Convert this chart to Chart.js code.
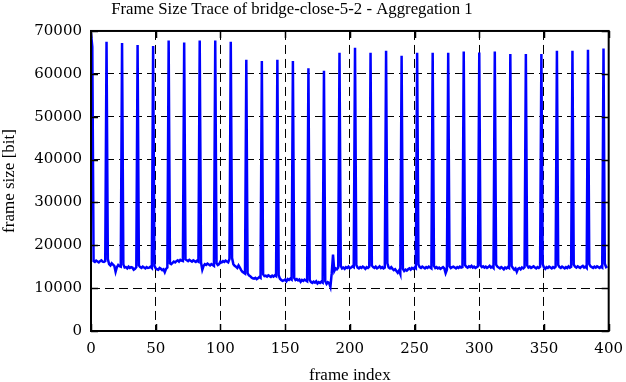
<!DOCTYPE html>
<html>
<head>
<meta charset="utf-8">
<title>Frame Size Trace</title>
<script src="https://cdn.jsdelivr.net/npm/chart.js@4.4.1/dist/chart.umd.min.js"></script>
<style>
    html, body { margin: 0; padding: 0; background: #fff; }
    #wrap { width: 626px; height: 382px; }
</style>
</head>
<body>
<div id="wrap"><canvas id="trace"></canvas></div>
<script>
// frame sizes in bit, one row per GOP (I-frame first)
const frameSizes = [
    69500, 66300, 16300, 16100, 16400, 16200, 16000, 16300, 16500, 16200, 16100, 16300,
    67500, 16800, 15600, 15300, 15800, 15500, 15200, 13800, 14900, 15400, 15100, 15000,
    67200, 15500, 14800, 14900, 14600, 15000, 14700, 14900, 14800, 14300, 14500, 14900,
    66700, 15300, 14900, 14700, 15000, 14800, 14600, 14900, 14700, 14800, 15000, 14700,
    66500, 15200, 14600, 14400, 14300, 14700, 14500, 14200, 14400, 13700, 14500, 14800,
    67800, 15800, 15600, 15900, 16200, 16000, 16300, 16500, 16200, 16600, 16400, 16300,
    67300, 16700, 16500, 16300, 16600, 16400, 16200, 16500, 16300, 16100, 16400, 16200,
    67800, 16000, 14300, 15200, 15600, 15400, 15700, 15500, 15300, 15600, 15400, 15200,
    67800, 15800, 15400, 15600, 16200, 16000, 16300, 16100, 16400, 16200, 16000, 16800,
    67500, 17000, 15600, 15200, 15000, 14700, 15300, 14800, 14200, 13800, 13600, 13400,
    63300, 13500, 13000, 12800, 12500, 12300, 12200, 12400, 12100, 12300, 12600, 12400,
    63000, 13200, 12800, 12900, 12700, 13000, 12800, 12600, 12900, 12700, 13000, 12800,
    63300, 13000, 12200, 11900, 11700, 11800, 12000, 11600, 12100, 11900, 12200, 12000,
    63000, 12400, 11900, 12100, 11800, 12000, 11500, 11900, 11700, 12000, 11800, 11600,
    61300, 11900, 11400, 11200, 11500, 11300, 11600, 11100, 11400, 11200, 11500, 11300,
    60700, 11600, 11000, 11400, 11200, 10300, 13500, 17800, 14000, 14600, 14400, 14800,
    64900, 15200, 14600, 14800, 14500, 14900, 14700, 15000, 14600, 14800, 15100, 14900,
    66100, 15400, 14800, 14600, 14900, 14700, 15000, 14800, 14500, 14900, 14700, 15000,
    64900, 15300, 14900, 14700, 15000, 14600, 14800, 15100, 14700, 14900, 14600, 14800,
    65400, 15800, 14800, 14600, 14900, 14500, 14200, 14400, 14000, 13600, 14100, 13300,
    64200, 14500, 14000, 14300, 14100, 14400, 14600, 14300, 14700, 14500, 14800, 14600,
    64900, 15500, 14900, 14700, 15000, 14800, 14600, 14900, 14700, 15000, 14800, 14600,
    64900, 15200, 14700, 14900, 14600, 14800, 14500, 14700, 14900, 14600, 13500, 14300,
    64900, 15100, 14700, 14900, 15000, 14800, 14600, 14900, 14700, 15000, 14800, 14900,
    65200, 15400, 15000, 14800, 15100, 14900, 15200, 14800, 15000, 14700, 14900, 15100,
    65000, 15300, 14900, 15100, 14800, 15000, 14700, 14900, 15200, 14800, 15000, 14700,
    65200, 15500, 15000, 14800, 14600, 14900, 14700, 14400, 14800, 14600, 14900, 14700,
    64600, 15200, 14700, 14300, 14600, 13800, 14500, 14700, 14400, 14800, 14600, 14900,
    64600, 15300, 14800, 15000, 14700, 14900, 15100, 14800, 14600, 14900, 14700, 15000,
    64600, 15600, 14800, 14500, 14900, 14700, 15000, 14800, 14600, 14900, 14700, 15000,
    65400, 15400, 14900, 14700, 15000, 14800, 14600, 14900, 14700, 15100, 14800, 15000,
    65400, 15500, 15000, 14800, 15100, 14900, 14700, 15000, 15200, 14800, 15000, 14700,
    65600, 15600, 15100, 14900, 14700, 15000, 14800, 15100, 14900, 14700, 15000, 14800,
    65900, 15700, 14900, 15100
];

const xTicks = [0, 50, 100, 150, 200, 250, 300, 350, 400];
const yTicks = [0, 10000, 20000, 30000, 40000, 50000, 60000, 70000];

const serif = '"Liberation Serif", "Times New Roman", serif';
const tickFont = { family: '"DejaVu Serif", serif', size: 15 };

// closed frame plus gnuplot style inward ticks
const framePlugin = {
    id: 'frame',
    afterDatasetsDraw(chart) {
        const { ctx, chartArea: a, scales } = chart;
        ctx.save();
        ctx.strokeStyle = '#000';
        ctx.lineWidth = 1.5;
        ctx.beginPath();
        xTicks.forEach(v => {
            const px = Math.round(scales.x.getPixelForValue(v)) + 0.5;
            ctx.moveTo(px, a.bottom); ctx.lineTo(px, a.bottom - 7);
            ctx.moveTo(px, a.top); ctx.lineTo(px, a.top + 7);
        });
        yTicks.forEach(v => {
            const py = Math.round(scales.y.getPixelForValue(v)) + 0.5;
            ctx.moveTo(a.left, py); ctx.lineTo(a.left + 7, py);
            ctx.moveTo(a.right, py); ctx.lineTo(a.right - 7, py);
        });
        ctx.stroke();
        ctx.lineWidth = 2;
        ctx.strokeRect(a.left, a.top, a.right - a.left, a.bottom - a.top);
        ctx.restore();
    }
};

new Chart(document.getElementById('trace'), {
    type: 'line',
    data: {
        datasets: [{
            data: frameSizes.map((y, i) => ({ x: i, y })),
            borderColor: '#0000ff',
            borderWidth: 2.5,
            pointRadius: 0,
            tension: 0,
            fill: false
        }]
    },
    options: {
        responsive: true,
        maintainAspectRatio: false,
        animation: false,
        layout: { padding: { left: 0, right: 17, top: 0, bottom: 0 } },
        plugins: {
            legend: { display: false },
            tooltip: { enabled: false },
            title: {
                display: true,
                // trailing spaces nudge the centred title left like the original
                text: 'Frame Size Trace of bridge-close-5-2 - Aggregation 1\u00a0\u00a0\u00a0\u00a0\u00a0\u00a0',
                color: '#000',
                font: { family: serif, size: 16.8, weight: 'normal', lineHeight: 1.2 },
                padding: { top: 0, bottom: 10.8 }
            }
        },
        scales: {
            x: {
                type: 'linear',
                min: 0,
                max: 400,
                afterFit: s => { s.height = 51; },
                afterBuildTicks: s => { s.ticks = xTicks.map(v => ({ value: v })); },
                ticks: {
                    color: '#000',
                    font: { ...tickFont, lineHeight: 2.0 },
                    padding: 3,
                    maxRotation: 0,
                    callback: v => String(v)
                },
                grid: { color: '#000', lineWidth: 1, drawTicks: false },
                border: { display: false, dash: [9, 5] },
                title: {
                    display: true,
                    text: 'frame index',
                    color: '#000',
                    font: { family: serif, size: 17, lineHeight: 0.8 },
                    padding: { top: 0, bottom: 0 }
                }
            },
            y: {
                min: 0,
                max: 70000,
                afterFit: s => { s.width = 91; },
                afterBuildTicks: s => { s.ticks = yTicks.map(v => ({ value: v })); },
                ticks: { color: '#000', font: tickFont, padding: 9, callback: v => String(v) },
                grid: { color: '#000', lineWidth: 1, drawTicks: false },
                border: { display: false, dash: [9, 5] },
                title: {
                    display: true,
                    text: 'frame size [bit]',
                    color: '#000',
                    font: { family: serif, size: 17, lineHeight: 1 },
                    padding: { top: 1, bottom: 0 }
                }
            }
        }
    },
    plugins: [framePlugin]
});
</script>
</body>
</html>
